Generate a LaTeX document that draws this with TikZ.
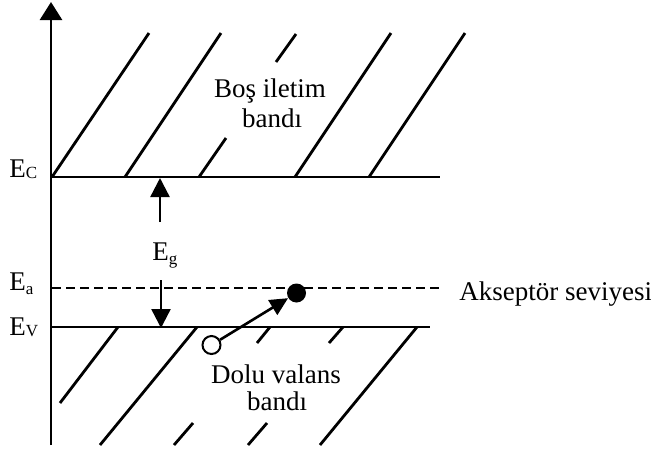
\documentclass[tikz,border=0pt]{standalone}
\usepackage{fontspec}
\setmainfont{Liberation Serif}
\usetikzlibrary{arrows.meta}
\newcommand{\lsub}[2][-0.8pt]{\raisebox{#1}{\fontsize{8.5}{9}\selectfont #2}}
\begin{document}
\begin{tikzpicture}[x=0.5pt,y=-0.5pt,
  bandline/.style={line width=1.35pt},
  hatch/.style={line width=1.4pt},
  lbl/.style={inner sep=0pt, font=\fontsize{13.5}{16}\selectfont},
  arr/.style={line width=1.2pt,-{Triangle[length=9.5pt,width=9.5pt]}},
  dot/.style={circle, inner sep=0pt, minimum size=9.5pt}]
\useasboundingbox (0,0) rectangle (651,452);
% upper band hatching
\draw[hatch] (52,177) -- (149,33);
\draw[hatch] (125,177) -- (221,33);
\draw[hatch] (199,177) -- (226,138);
\draw[hatch] (276,62) -- (296,34);
\draw[hatch] (295,177) -- (391,33);
\draw[hatch] (369,177) -- (465,33);
% lower band hatching
\draw[hatch] (118,327) -- (60,403);
\draw[hatch] (197,327) -- (100,445);
\draw[hatch] (270,327) -- (257,343);
\draw[hatch] (193,423) -- (174,445);
\draw[hatch] (343,327) -- (329,343);
\draw[hatch] (267,423) -- (248,445);
\draw[hatch] (417,327) -- (320,445);
% band edges
\coordinate (ec0) at (51,177);
\coordinate (ec1) at (440,177);
\coordinate (ev0) at (51,327);
\coordinate (ev1) at (430,327);
\coordinate (ea0) at (52,288);
\coordinate (ea1) at (441,288);
\draw[bandline] (ec0) -- (ec1);
\draw[bandline] (ev0) -- (ev1);
\draw[line width=1pt, dash pattern=on 4.5pt off 2.5pt] (ea0) -- (ea1);
% axis
\coordinate (ax0) at (51,445);
\coordinate (ax1) at (51,2);
\draw[line width=1.3pt,-{Triangle[length=9pt,width=11pt]}] (ax0) -- (ax1);
% labels
\node[lbl, anchor=base west] (lec) at (9,177) {E\lsub[-0.5pt]{C}};
\node[lbl, anchor=base west] (lea) at (9,290) {E\lsub[-2pt]{a}};
\node[lbl, anchor=base west] (lev) at (9,335) {E\lsub[-0.5pt]{V}};
\node[lbl, anchor=base west] (leg) at (152,260) {E\lsub[-2pt]{g}};
% Eg arrows
\coordinate (egu0) at (160,222);
\coordinate (egu1) at (160,178);
\coordinate (egd0) at (161,280);
\coordinate (egd1) at (161,328);
\draw[arr] (egu0) -- (egu1);
\draw[arr] (egd0) -- (egd1);
% texts
\node[lbl, anchor=base] (t1) at (270,97) {Boş iletim};
\node[lbl, anchor=base] (t2) at (272,127) {bandı};
\node[lbl, anchor=base] (t3) at (276,383) {Dolu valans};
\node[lbl, anchor=base] (t4) at (277,410) {bandı};
\node[lbl, anchor=base west] (t5) at (459,300) {Akseptör seviyesi};
% carriers
\node[dot, fill=black] (fc) at (296.5,293) {};
\node[dot, draw, line width=1pt, fill=white, minimum size=9pt] (oc) at (211.5,345) {};
\draw[line width=1.3pt,-{Triangle[length=9pt,width=8.5pt]}] (oc) -- (fc);
\end{tikzpicture}
\end{document}
